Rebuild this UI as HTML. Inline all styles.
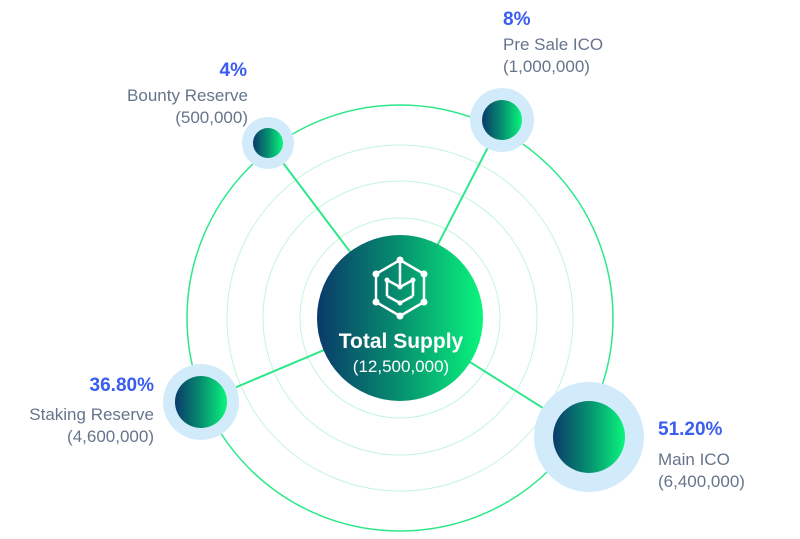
<!DOCTYPE html>
<html><head><style>
body{margin:0;width:800px;height:539px;background:#fff;overflow:hidden;position:relative;font-family:"Liberation Sans",sans-serif}
.t{position:absolute;font-size:17px;color:#66758c;line-height:22px;white-space:nowrap}
.p{position:absolute;font-size:19px;font-weight:bold;color:#3a5cf0;white-space:nowrap}
</style></head><body>
<svg width="800" height="539" style="position:absolute;left:0;top:0">
<defs>
<linearGradient id="g" x1="0" x2="1" y1="0" y2="0"><stop offset="0" stop-color="#0a3a6a"/><stop offset="0.5" stop-color="#06906f"/><stop offset="1" stop-color="#0af57d"/></linearGradient>
</defs>
<g fill="none" stroke="#c4f5dc" stroke-width="1">
<circle cx="400" cy="318" r="100"/><circle cx="400" cy="318" r="137"/><circle cx="400" cy="318" r="173"/>
</g>
<circle cx="400" cy="318" r="213" fill="none" stroke="#2de88a" stroke-width="1.5"/>
<g stroke="#2de88a" stroke-width="2">
<line x1="400" y1="318" x2="268" y2="143"/><line x1="400" y1="318" x2="502" y2="120"/>
<line x1="400" y1="318" x2="201" y2="402"/><line x1="400" y1="318" x2="589" y2="437"/>
</g>
<circle cx="268" cy="143" r="26" fill="#d2ebfa"/><circle cx="268" cy="143" r="15" fill="url(#g)"/>
<circle cx="502" cy="120" r="32" fill="#d2ebfa"/><circle cx="502" cy="120" r="20" fill="url(#g)"/>
<circle cx="201" cy="402" r="38" fill="#d2ebfa"/><circle cx="201" cy="402" r="26" fill="url(#g)"/>
<circle cx="589" cy="437" r="55" fill="#d2ebfa"/><circle cx="589" cy="437" r="36" fill="url(#g)"/>
<circle cx="400" cy="318" r="83" fill="url(#g)"/>
<g stroke="#fff" stroke-width="2.5" fill="none">
<polygon points="400,260 424,274 424,302 400,316 376,302 376,274"/>
<line x1="400" y1="260" x2="400" y2="287"/><line x1="387" y1="280" x2="400" y2="287"/><line x1="413" y1="280" x2="400" y2="287"/>
<line x1="387" y1="280" x2="387" y2="296"/><line x1="413" y1="280" x2="413" y2="296"/><line x1="387" y1="296" x2="400" y2="303"/><line x1="413" y1="296" x2="400" y2="303"/>
</g>
<g fill="#fff">
<circle cx="400" cy="260" r="3.5"/><circle cx="424" cy="274" r="3.5"/><circle cx="424" cy="302" r="3.5"/><circle cx="400" cy="316" r="3.5"/><circle cx="376" cy="302" r="3.5"/><circle cx="376" cy="274" r="3.5"/>
<circle cx="387" cy="280" r="2.5"/><circle cx="413" cy="280" r="2.5"/><circle cx="400" cy="287" r="2.5"/><circle cx="400" cy="303" r="2.5"/>
</g>
<text x="401" y="348" text-anchor="middle" fill="#fff" font-family="Liberation Sans" font-weight="bold" font-size="21">Total Supply</text>
<text x="401" y="372" text-anchor="middle" fill="#fff" font-family="Liberation Sans" font-size="17">(12,500,000)</text>
</svg>
<div class="p" style="right:553px;top:60px">4%</div>
<div class="t" style="right:552px;top:85px;text-align:right">Bounty Reserve<br>(500,000)</div>
<div class="p" style="left:503px;top:9px">8%</div>
<div class="t" style="left:503px;top:34px">Pre Sale ICO<br>(1,000,000)</div>
<div class="p" style="right:646px;top:375px">36.80%</div>
<div class="t" style="right:646px;top:404px;text-align:right">Staking Reserve<br>(4,600,000)</div>
<div class="p" style="left:658px;top:419px">51.20%</div>
<div class="t" style="left:658px;top:449px">Main ICO<br>(6,400,000)</div>
</body></html>
